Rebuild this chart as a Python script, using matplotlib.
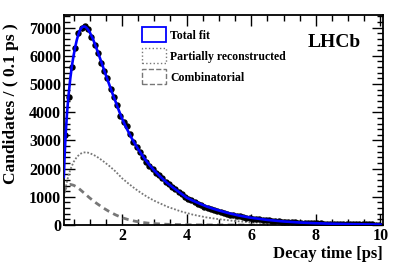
import numpy as np
import matplotlib
matplotlib.use("Agg")
import matplotlib.pyplot as plt
from matplotlib.ticker import MultipleLocator
from matplotlib.patches import Patch

# data points: bin centres (0.1 ps bins) and counts
t_data = [0.25, 0.35, 0.45, 0.55, 0.65, 0.75, 0.85, 0.95, 1.05, 1.15,
          1.25, 1.35, 1.45, 1.55, 1.65, 1.75, 1.85, 1.95, 2.05, 2.15,
          2.25, 2.35, 2.45, 2.55, 2.65, 2.75, 2.85, 2.95, 3.05, 3.15,
          3.25, 3.35, 3.45, 3.55, 3.65, 3.75, 3.85, 3.95, 4.05, 4.15,
          4.25, 4.35, 4.45, 4.55, 4.65, 4.75, 4.85, 4.95, 5.05, 5.15,
          5.25, 5.35, 5.45, 5.55, 5.65, 5.75, 5.85, 5.95, 6.05, 6.15,
          6.25, 6.35, 6.45, 6.55, 6.65, 6.75, 6.85, 6.95, 7.05, 7.15,
          7.25, 7.35, 7.45, 7.55, 7.65, 7.75, 7.85, 7.95, 8.05, 8.15,
          8.25, 8.35, 8.45, 8.55, 8.65, 8.75, 8.85, 8.95, 9.05, 9.15,
          9.25, 9.35, 9.45, 9.55, 9.65, 9.75, 9.85, 9.95]
counts = [3200, 4530, 5590, 6270, 6820, 6980, 7060, 6970, 6680, 6380,
          6090, 5760, 5470, 5200, 4820, 4530, 4250, 3870, 3640, 3500,
          3230, 2960, 2750, 2600, 2420, 2250, 2080, 1980, 1860, 1760,
          1650, 1540, 1460, 1360, 1270, 1170, 1100, 1010, 930, 870,
          815, 755, 700, 650, 605, 565, 525, 490, 460, 428,
          400, 372, 350, 328, 302, 286, 264, 246, 230, 214,
          200, 187, 174, 162, 150, 141, 131, 122, 114, 106,
          99, 92, 87, 80, 75, 70, 66, 61, 57, 53,
          50, 47, 43, 41, 38, 36, 33, 31, 29, 27,
          25, 24, 22, 21, 19, 18, 17, 16]

# fit components
t_fit = [0.20, 0.22, 0.25, 0.30, 0.35, 0.40, 0.45, 0.50, 0.55, 0.60,
         0.65, 0.70, 0.75, 0.80, 0.85, 0.90, 0.95, 1.00, 1.10, 1.20,
         1.30, 1.40, 1.50, 1.60, 1.70, 1.80, 1.90, 2.00, 2.10, 2.20,
         2.30, 2.40, 2.50, 2.60, 2.70, 2.80, 2.90, 3.00, 3.20, 3.40,
         3.60, 3.80, 4.00, 4.20, 4.40, 4.60, 4.80, 5.00, 5.30, 5.60,
         6.00, 6.50, 7.00, 7.50, 8.00, 8.50, 9.00, 9.50, 10.0]
total_fit = [1700, 2350, 3100, 4000, 4650, 5200, 5650, 6000, 6300, 6560,
             6760, 6910, 7000, 7040, 7040, 7000, 6930, 6840, 6600, 6300,
             5980, 5650, 5320, 5000, 4680, 4380, 4070, 3780, 3530, 3300,
             3080, 2880, 2690, 2520, 2350, 2200, 2060, 1930, 1700, 1490,
             1310, 1140, 970, 860, 760, 665, 585, 515, 420, 340,
             255, 180, 125, 88, 62, 44, 31, 22, 16]
t_bkg = [0.20, 0.25, 0.30, 0.35, 0.40, 0.50, 0.60, 0.70, 0.80, 0.90,
         1.00, 1.20, 1.40, 1.60, 1.80, 2.00, 2.20, 2.40, 2.60, 2.80,
         3.00, 3.40, 3.80, 4.20, 4.60, 5.00, 5.50, 6.00, 6.50, 7.00,
         7.50, 8.00, 8.50, 9.00, 9.50, 10.0]
part_reco = [1000, 1300, 1560, 1780, 1960, 2230, 2410, 2520, 2570, 2580,
             2550, 2440, 2280, 2100, 1900, 1660, 1470, 1290, 1130, 985,
             860, 650, 490, 365, 272, 205, 140, 95, 65, 45,
             31, 21, 15, 10, 7, 5]
combinatorial = [1150, 1300, 1390, 1430, 1440, 1410, 1350, 1260, 1160, 1060,
                 960, 780, 620, 480, 360, 260, 190, 135, 95, 68,
                 48, 25, 12, 6, 3, 2, 1, 0, 0, 0,
                 0, 0, 0, 0, 0, 0]

plt.rcParams['font.family'] = ['Liberation Serif', 'DejaVu Serif']
plt.rcParams['font.weight'] = 'bold'

fig = plt.figure(figsize=(3.99, 2.70), dpi=100)
ax = fig.add_axes([0.160, 0.1667, 0.800, 0.7778])

ax.plot(t_bkg, part_reco, color="#777777", lw=1.3, ls=(0, (1, 1)), zorder=2)
ax.plot(t_bkg, combinatorial, color="#777777", lw=2.0, ls=(0, (2.2, 1.6)), zorder=2)
ax.errorbar(t_data, counts, yerr=np.sqrt(counts), xerr=0.05, fmt="o",
            color="black", ms=3.6, lw=0.8, capsize=0, zorder=3)
ax.plot(t_fit, total_fit, color="#0000ff", lw=1.9, zorder=4)

ax.set_xlim(0.2, 10.08)
ax.set_ylim(0, 7450)
ax.xaxis.set_major_locator(MultipleLocator(2))
ax.xaxis.set_minor_locator(MultipleLocator(0.5))
ax.yaxis.set_major_locator(MultipleLocator(1000))
ax.yaxis.set_minor_locator(MultipleLocator(200))
ax.tick_params(which="both", direction="in", top=True, right=True,
               width=1.0, labelsize=11.5, pad=2)
ax.tick_params(which="major", length=8)
ax.tick_params(which="minor", length=4)
for lab in ax.get_xticklabels() + ax.get_yticklabels():
    lab.set_fontweight("bold")
for s in ax.spines.values():
    s.set_linewidth(1.3)

ax.set_ylabel("Candidates / ( 0.1 ps )", fontsize=12.5, fontweight="bold")
ax.yaxis.set_label_coords(-0.14, 0.58)
ax.set_xlabel("Decay time [ps]", fontsize=12, fontweight="bold")
ax.xaxis.set_label_coords(1.0, -0.1)
ax.xaxis.label.set_horizontalalignment("right")

handles = [Patch(facecolor="white", edgecolor="#0000ff", lw=1.3),
           Patch(facecolor="white", edgecolor="#777777", lw=1.0, ls=":"),
           Patch(facecolor="white", edgecolor="#777777", lw=1.0, ls="--")]
leg = ax.legend(handles, ["Total fit", "Partially reconstructed", "Combinatorial"],
                loc="upper left", bbox_to_anchor=(0.23, 0.965), frameon=False,
                prop={"size": 8.5, "weight": "bold"}, handlelength=2.0,
                handleheight=1.6, labelspacing=0.5, handletextpad=0.4,
                borderaxespad=0)

ax.text(0.846, 0.867, "LHCb", transform=ax.transAxes, fontsize=14,
        fontweight="bold", ha="center", va="center")

fig.savefig("out.png", dpi=100)
